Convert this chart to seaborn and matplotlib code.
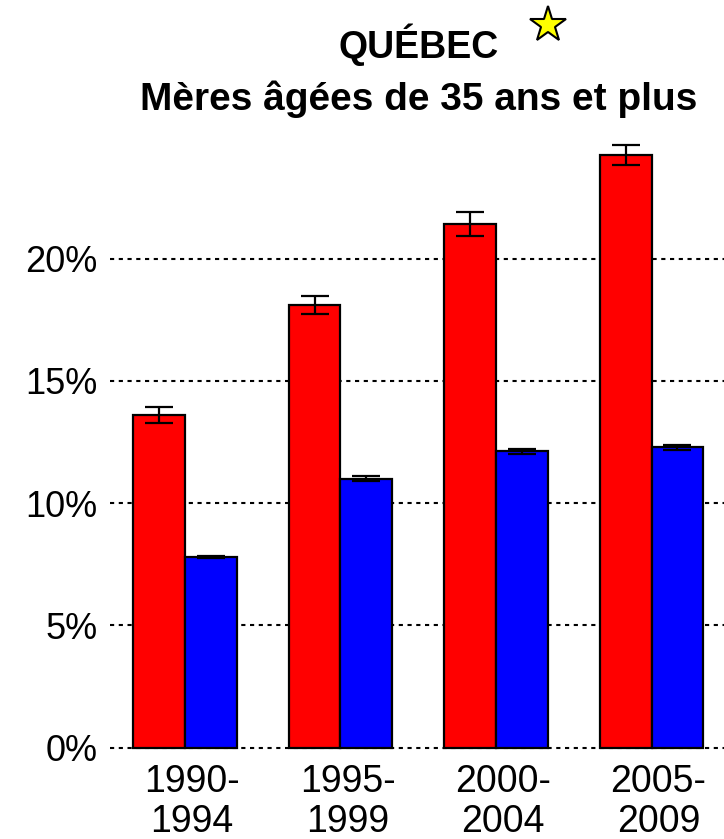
import matplotlib
matplotlib.use("Agg")
import matplotlib.pyplot as plt
import matplotlib.transforms as mtransforms
import seaborn as sns
import pandas as pd

# ---- data ----
periods = ["1990-\n1994", "1995-\n1999", "2000-\n2004", "2005-\n2009"]
series_names = ["Série rouge", "Série bleue"]
red_values = [13.6, 18.1, 21.4, 24.25]
red_errors = [0.33, 0.37, 0.49, 0.40]
blue_values = [7.8, 11.0, 12.13, 12.28]
blue_errors = [0.04, 0.10, 0.10, 0.12]
y_ticks = [0, 5, 10, 15, 20]
y_tick_labels = ["0%", "5%", "10%", "15%", "20%"]
title_line1 = "QUÉBEC"
title_line2 = "Mères âgées de 35 ans et plus"
colors = ["#FF0000", "#0000FF"]

df = pd.DataFrame({
    "period": periods * 2,
    "series": [series_names[0]] * 4 + [series_names[1]] * 4,
    "value": red_values + blue_values,
})
errors = [red_errors, blue_errors]
values = [red_values, blue_values]

sns.set_theme(style="white")
plt.rcParams['font.family'] = ['Liberation Sans', 'DejaVu Sans']

W, H = 724, 839
fig = plt.figure(figsize=(W / 100, H / 100), dpi=100)

px_per_unit = 24.45
zero_px = 747.7
y0, y1 = -0.6, 25.3
ax_left, ax_right = 110, 724
bottom_px = zero_px - y0 * px_per_unit
top_px = zero_px - y1 * px_per_unit
ax = fig.add_axes([ax_left / W, 1 - bottom_px / H,
                   (ax_right - ax_left) / W, (bottom_px - top_px) / H])

for t in y_ticks:
    ax.axhline(t, color="black", linestyle=(0, (2, 2.2)), linewidth=1.5, zorder=0)

sns.barplot(data=df, x="period", y="value", hue="series", palette=colors,
            width=2 / 3, edgecolor="black", linewidth=1.6, saturation=1,
            errorbar=None, legend=False, ax=ax, zorder=2)

bar_containers = list(ax.containers)
for i, cont in enumerate(bar_containers):
    xs = [p.get_x() + p.get_width() / 2 for p in cont]
    ax.errorbar(xs, values[i], yerr=errors[i], fmt="none", ecolor="black",
                elinewidth=1.6, capsize=10, capthick=1.6, zorder=3)

ax.set_xlim(-0.482, 3.466)
ax.set_ylim(y0, y1)
for s in ax.spines.values():
    s.set_visible(False)
ax.set_xlabel("")
ax.set_ylabel("")
ax.set_yticks(y_ticks)
ax.set_yticklabels(y_tick_labels)
ax.tick_params(axis="y", length=0, pad=9, labelsize=26, labelcolor="black")
ax.tick_params(axis="x", length=0, pad=1, labelsize=27, labelcolor="black")
ax.set_xticks(range(len(periods)))
ax.set_xticklabels(periods, linespacing=1.15)
offset = mtransforms.ScaledTranslation(7 / 100, 0, fig.dpi_scale_trans)
for lab in ax.get_xticklabels():
    lab.set_transform(lab.get_transform() + offset)

cx = 418.5 / W
fig.text(cx, 1 - 58 / H, title_line1, ha="center", va="baseline",
         fontsize=27, fontweight="bold", color="black")
fig.text(cx, 1 - 110 / H, title_line2, ha="center", va="baseline",
         fontsize=28, fontweight="bold", color="black")
fig.add_artist(plt.Line2D([548 / W], [1 - 25 / H], marker="*", markersize=27,
                          markerfacecolor="#FFFF00", markeredgecolor="black",
                          markeredgewidth=1.5, linestyle="none",
                          transform=fig.transFigure))

fig.savefig("out.png", dpi=100)
